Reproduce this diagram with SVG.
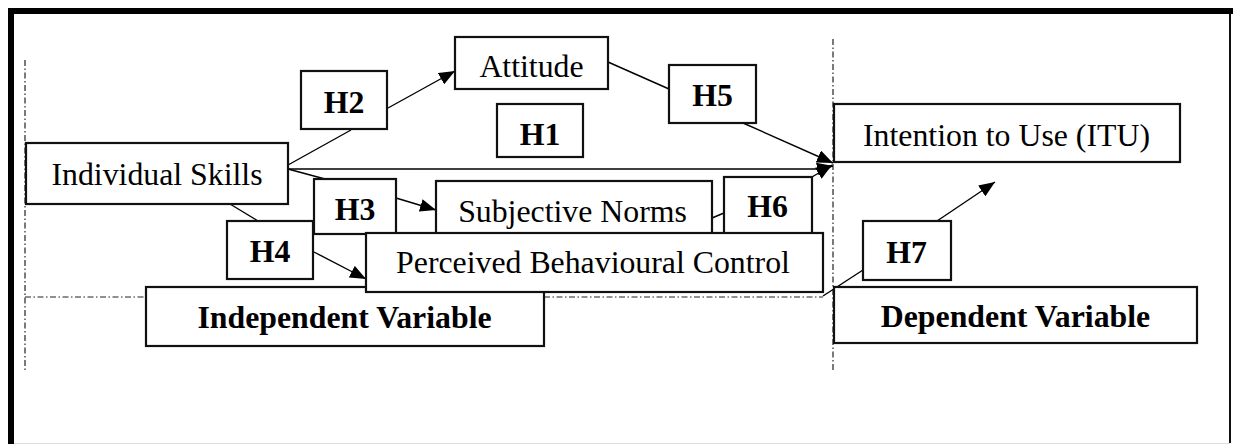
<svg xmlns="http://www.w3.org/2000/svg" width="1233" height="444" viewBox="0 0 1233 444">
<style>
.box{fill:#fff;stroke:#111;stroke-width:2.2}
.t{font-family:"Liberation Serif","Times New Roman",serif;font-size:31.8px;fill:#000;text-anchor:middle}
.b{font-weight:bold}
.c{fill:none;stroke:#000;stroke-width:1.4}
.dd{fill:none;stroke:#222;stroke-width:1.2;stroke-dasharray:6 2.5 1.5 2.5}
</style>
<defs>
<marker id="ah" markerUnits="userSpaceOnUse" markerWidth="17" markerHeight="13" refX="16" refY="6.5" orient="auto">
<path d="M0,0 L16,6.5 L0,13 z" fill="#000"/>
</marker>
</defs>
<rect x="0" y="0" width="1233" height="444" fill="#fff"/>
<!-- frame -->
<rect x="8" y="8" width="1225" height="6" fill="#000"/>
<rect x="8" y="8" width="6" height="436" fill="#000"/>
<line x1="1230" y1="14" x2="1230" y2="443" stroke="#111" stroke-width="2"/>
<line x1="14" y1="443.5" x2="1230" y2="443.5" stroke="#ddd" stroke-width="1"/>
<g id="regions">
<line class="dd" x1="25" y1="60" x2="25" y2="370"/>
<line class="dd" x1="25" y1="297" x2="146" y2="297"/>
<line class="dd" x1="544" y1="297" x2="823" y2="297"/>
<line class="dd" x1="833" y1="39" x2="833" y2="372"/>
</g>
<g id="connectors">
<line class="c" x1="288" y1="165" x2="351" y2="130"/>
<line class="c" x1="388" y1="108" x2="455" y2="71" marker-end="url(#ah)"/>
<polyline class="c" points="288,169 818,169 833,166" marker-end="url(#ah)"/>
<line class="c" x1="288" y1="169" x2="325" y2="179"/>
<line class="c" x1="396" y1="198" x2="436" y2="210" marker-end="url(#ah)"/>
<line class="c" x1="230" y1="204" x2="258" y2="221"/>
<line class="c" x1="314" y1="252" x2="366" y2="279" marker-end="url(#ah)"/>
<line class="c" x1="608" y1="62" x2="669" y2="89"/>
<line class="c" x1="743" y1="123" x2="833" y2="163" marker-end="url(#ah)"/>
<line class="c" x1="712" y1="218" x2="724" y2="213"/>
<line class="c" x1="812" y1="177" x2="832" y2="165" marker-end="url(#ah)"/>
<line class="c" x1="823" y1="296" x2="863" y2="270"/>
<line class="c" x1="937" y1="221" x2="995" y2="182" marker-end="url(#ah)"/>
</g>
<g id="independent-variable">
<rect class="box" x="146" y="287" width="398" height="59"/>
<text class="t b" x="344.5" y="328">Independent Variable</text>
</g>
<g id="individual-skills">
<rect class="box" x="26" y="143" width="262" height="61"/>
<text class="t" x="157" y="185">Individual Skills</text>
</g>
<g id="attitude">
<rect class="box" x="455" y="37" width="153" height="52"/>
<text class="t" x="531.5" y="77">Attitude</text>
</g>
<g id="h2">
<rect class="box" x="301" y="71" width="86" height="58"/>
<text class="t b" x="344" y="113">H2</text>
</g>
<g id="h5">
<rect class="box" x="669" y="65" width="87" height="58"/>
<text class="t b" x="712.5" y="106">H5</text>
</g>
<g id="h1">
<rect class="box" x="497" y="104" width="86" height="53"/>
<text class="t b" x="540" y="145">H1</text>
</g>
<g id="intention-to-use">
<rect class="box" x="834" y="104" width="346" height="58"/>
<text class="t" x="1006.5" y="146">Intention to Use (ITU)</text>
</g>
<g id="h3">
<rect class="box" x="314" y="179" width="82" height="55"/>
<text class="t b" x="355" y="220">H3</text>
</g>
<g id="h4">
<rect class="box" x="227" y="221" width="86" height="58"/>
<text class="t b" x="270" y="262">H4</text>
</g>
<g id="subjective-norms">
<rect class="box" x="436" y="181" width="276" height="60"/>
<text class="t" x="572.5" y="222">Subjective Norms</text>
</g>
<g id="h6">
<rect class="box" x="724" y="177" width="88" height="60"/>
<text class="t b" x="767.5" y="217">H6</text>
</g>
<g id="perceived-behavioural-control">
<rect class="box" x="366" y="233" width="457" height="59"/>
<text class="t" x="593" y="273">Perceived Behavioural Control</text>
</g>
<g id="h7">
<rect class="box" x="863" y="221" width="88" height="59"/>
<text class="t b" x="906.5" y="263">H7</text>
</g>
<g id="dependent-variable">
<rect class="box" x="834" y="287" width="363" height="56"/>
<text class="t b" x="1015.5" y="327">Dependent Variable</text>
</g>
</svg>
